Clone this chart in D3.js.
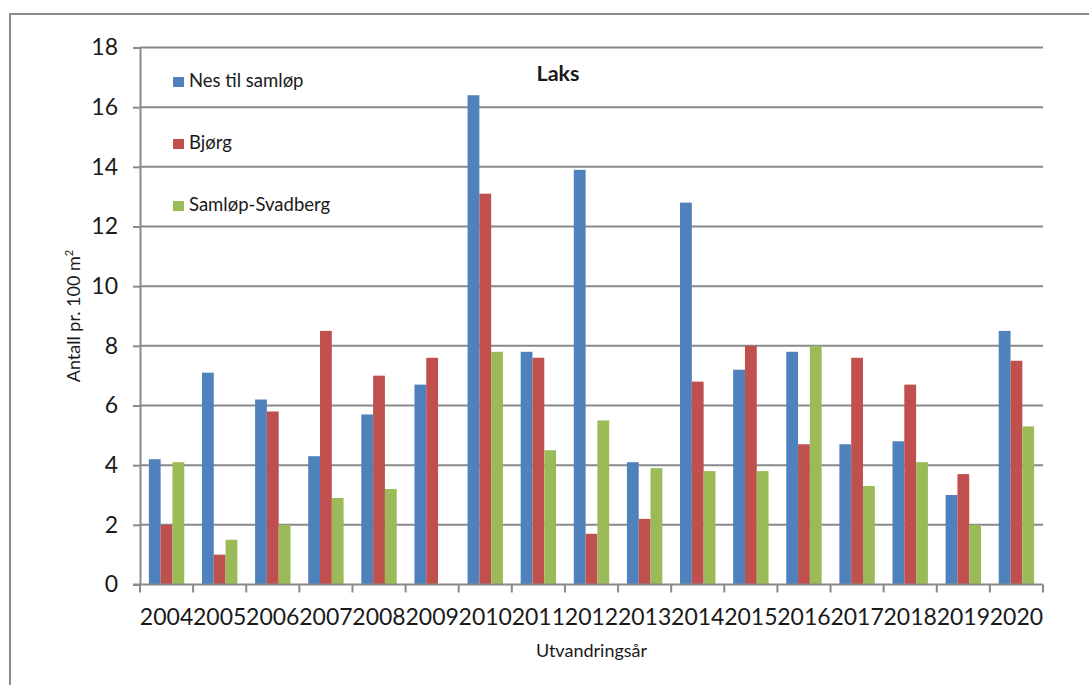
<!DOCTYPE html>
<html>
<head>
<meta charset="utf-8">
<script src="https://cdn.jsdelivr.net/npm/d3@7"></script>
<style>
  html, body { margin: 0; padding: 0; background: #fff; }
  svg { display: block; }
  text { font-family: Lato, "Open Sans", sans-serif; fill: #1a1a1a; }
</style>
</head>
<body>
<svg id="chart" width="1089" height="685"></svg>
<script>
// Utvandringsår (x-axis categories)
const years = ["2004","2005","2006","2007","2008","2009","2010","2011","2012","2013","2014","2015","2016","2017","2018","2019","2020"];

// Antall pr. 100 m² per strekning
const nesTilSamlop   = [4.2, 7.1, 6.2, 4.3, 5.7, 6.7, 16.4, 7.8, 13.9, 4.1, 12.8, 7.2, 7.8, 4.7, 4.8, 3.0, 8.5];
const bjorg          = [2.0, 1.0, 5.8, 8.5, 7.0, 7.6, 13.1, 7.6, 1.7, 2.2, 6.8, 8.0, 4.7, 7.6, 6.7, 3.7, 7.5];
const samlopSvadberg = [4.1, 1.5, 2.0, 2.9, 3.2, 0.0, 7.8, 4.5, 5.5, 3.9, 3.8, 3.8, 8.0, 3.3, 4.1, 2.0, 5.3];

const seriesNames  = ["Nes til samløp", "Bjørg", "Samløp-Svadberg"];
const seriesColors = ["#4F81BD", "#C0504D", "#9BBB59"];
const yTicks = [0, 2, 4, 6, 8, 10, 12, 14, 16, 18];

const series = [nesTilSamlop, bjorg, samlopSvadberg];

const svg = d3.select("#chart");
const plot = { left: 140, right: 1043, top: 47.5, bottom: 584.5 };
const gridColor = "#8a8a8a";

// Outer chart frame (left and top edges)
svg.append("path")
  .attr("d", "M10,685 L10,14 L1089,14")
  .attr("fill", "none")
  .attr("stroke", gridColor)
  .attr("stroke-width", 2);

const x0 = d3.scaleBand().domain(years).range([plot.left, plot.right]).padding(0);
const groupW = x0.bandwidth() * 3 / 4.5;
const x1 = d3.scaleBand().domain(d3.range(3))
  .range([(x0.bandwidth() - groupW) / 2, (x0.bandwidth() + groupW) / 2]).padding(0);
const y = d3.scaleLinear().domain([0, 18]).range([plot.bottom, plot.top]);

// Horizontal gridlines
svg.append("g")
  .selectAll("line")
  .data(yTicks.filter(t => t > 0))
  .join("line")
  .attr("x1", plot.left).attr("x2", plot.right)
  .attr("y1", d => y(d)).attr("y2", d => y(d))
  .attr("stroke", gridColor).attr("stroke-width", 2);

// Bars
const groups = svg.append("g")
  .selectAll("g")
  .data(years)
  .join("g")
  .attr("transform", d => `translate(${x0(d)},0)`);

groups.selectAll("rect")
  .data((d, i) => series.map((s, k) => ({ k, v: s[i] })))
  .join("rect")
  .attr("x", d => x1(d.k))
  .attr("width", x1.bandwidth())
  .attr("y", d => y(d.v))
  .attr("height", d => y(0) - y(d.v))
  .attr("fill", d => seriesColors[d.k]);

// Y axis
const yAxis = svg.append("g")
  .attr("transform", `translate(${plot.left},0)`)
  .call(d3.axisLeft(y).tickValues(yTicks).tickSize(7).tickPadding(15).tickSizeOuter(0));
yAxis.select(".domain").attr("stroke", gridColor).attr("stroke-width", 2);
yAxis.selectAll(".tick line").attr("stroke", gridColor).attr("stroke-width", 2);
yAxis.selectAll(".tick text")
  .attr("font-size", 23)
  .attr("font-family", "Lato, sans-serif")
  .attr("fill", "#1a1a1a");

// X axis: tick marks on category boundaries
const boundaries = years.map(d => x0(d)).concat([plot.right]);
svg.append("g")
  .selectAll("line")
  .data(boundaries)
  .join("line")
  .attr("x1", d => d).attr("x2", d => d)
  .attr("y1", plot.bottom).attr("y2", plot.bottom + 8)
  .attr("stroke", gridColor).attr("stroke-width", 2);

svg.append("line")
  .attr("x1", plot.left - 7).attr("x2", plot.right)
  .attr("y1", plot.bottom).attr("y2", plot.bottom)
  .attr("stroke", gridColor).attr("stroke-width", 2);

svg.append("g")
  .selectAll("text")
  .data(years)
  .join("text")
  .attr("x", d => x0(d) + x0.bandwidth() / 2)
  .attr("y", 625)
  .attr("text-anchor", "middle")
  .attr("font-size", 23)
  .text(d => d);

// Axis titles
svg.append("text")
  .attr("x", (plot.left + plot.right) / 2)
  .attr("y", 657)
  .attr("text-anchor", "middle")
  .attr("font-size", 18)
  .text("Utvandringsår");

const yTitle = svg.append("text")
  .attr("transform", "translate(80,316) rotate(-90)")
  .attr("text-anchor", "middle")
  .attr("font-size", 18);
yTitle.append("tspan").text("Antall pr. 100 m");
yTitle.append("tspan").attr("font-size", 11).attr("dy", -7).text("2");

// Chart title
svg.append("text")
  .attr("x", 558)
  .attr("y", 81)
  .attr("text-anchor", "middle")
  .attr("font-size", 21.5)
  .attr("font-weight", "bold")
  .attr("fill", "#000")
  .text("Laks");

// Legend
const legend = svg.append("g")
  .selectAll("g")
  .data(seriesNames)
  .join("g")
  .attr("transform", (d, i) => `translate(173,${87 + i * 62})`);
legend.append("rect")
  .attr("x", 0).attr("y", -10)
  .attr("width", 11).attr("height", 10)
  .attr("fill", (d, i) => seriesColors[i]);
legend.append("text")
  .attr("x", 16).attr("y", 0)
  .attr("font-size", 18.5)
  .text(d => d);
</script>
</body>
</html>
